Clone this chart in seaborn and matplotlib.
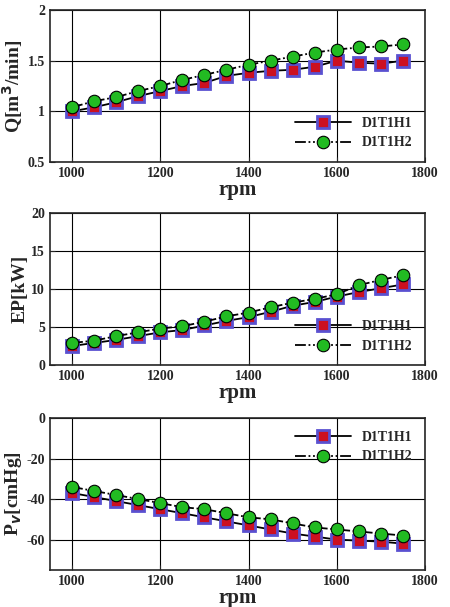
import matplotlib
matplotlib.use("Agg")
import matplotlib.pyplot as plt
from matplotlib.ticker import FormatStrFormatter
import seaborn as sns
import numpy as np

sns.set_style("ticks")
plt.rcParams["font.family"] = ["Liberation Serif", "DejaVu Serif"]
plt.rcParams["font.weight"] = "bold"
plt.rcParams["axes.unicode_minus"] = False

rpm = np.arange(1000, 1751, 50)
q_h1 = [1.0, 1.04, 1.09, 1.15, 1.2, 1.25, 1.28, 1.35, 1.38, 1.4, 1.41, 1.44, 1.5, 1.48, 1.47, 1.5]
q_h2 = [1.04, 1.1, 1.14, 1.2, 1.25, 1.31, 1.36, 1.41, 1.46, 1.5, 1.54, 1.58, 1.61, 1.63, 1.64, 1.66]
ep_h1 = [2.5, 2.9, 3.3, 3.8, 4.3, 4.6, 5.2, 5.8, 6.3, 7.0, 7.8, 8.3, 9.0, 9.6, 10.1, 10.6]
ep_h2 = [2.9, 3.2, 3.8, 4.3, 4.8, 5.1, 5.7, 6.4, 6.9, 7.6, 8.2, 8.7, 9.3, 10.5, 11.2, 11.8]
pv_h1 = [-37, -39, -41, -43, -45, -47, -49, -51, -53, -55, -57, -58.5, -60, -60.5, -61, -62]
pv_h2 = [-34, -36, -38, -40, -42, -44, -45, -47, -49, -50, -52, -54, -55, -56, -57, -58]

panels = [
    (q_h1, q_h2, (0.5, 2), [0.5, 1, 1.5, 2], "Q[m$^3$/min]", "lower right", "%g"),
    (ep_h1, ep_h2, (0, 20), [0, 5, 10, 15, 20], "EP[kW]", "lower right", "%g"),
    (pv_h1, pv_h2, (-75, 0), [-60, -40, -20, 0], "P$_v$[cmHg]", "upper right", "%g"),
]

fig = plt.figure(figsize=(4.5, 6.07), dpi=100)
tops = [10, 213, 418]
for (h1, h2, ylim, yt, ylab, loc, fmt), top in zip(panels, tops):
    ax = fig.add_axes([50 / 450, 1 - (top + 152) / 607, 375 / 450, 152 / 607])
    sns.lineplot(x=rpm, y=h1, ax=ax, color="black", lw=1.3, marker="s", markersize=8,
                 markerfacecolor="#cc1020", markeredgecolor="#5a50d0", markeredgewidth=2, label="D1T1H1")
    sns.lineplot(x=rpm, y=h2, ax=ax, color="black", lw=1.3, linestyle=(0, (6, 1.5, 1, 1.5, 1, 1.5)),
                 marker="o", markersize=9, markerfacecolor="#22bb22", markeredgecolor="black",
                 markeredgewidth=0.8, label="D1T1H2")
    ax.set_xlim(950, 1800)
    ax.set_ylim(*ylim)
    ax.set_xticks([1000, 1200, 1400, 1600, 1800])
    ax.set_yticks(yt)
    ax.yaxis.set_major_formatter(FormatStrFormatter(fmt))
    ax.grid(True, color="black", lw=0.8)
    ax.set_xlabel("rpm", fontsize=15, fontweight="bold", labelpad=0)
    ax.set_ylabel(ylab, fontsize=14, fontweight="bold", labelpad=2)
    ax.tick_params(labelsize=10, direction="in")
    ax.legend(loc=loc, frameon=False, fontsize=10, handlelength=4)
    for s in ax.spines.values():
        s.set_linewidth(1.2)

fig.savefig("out.png", dpi=100)
